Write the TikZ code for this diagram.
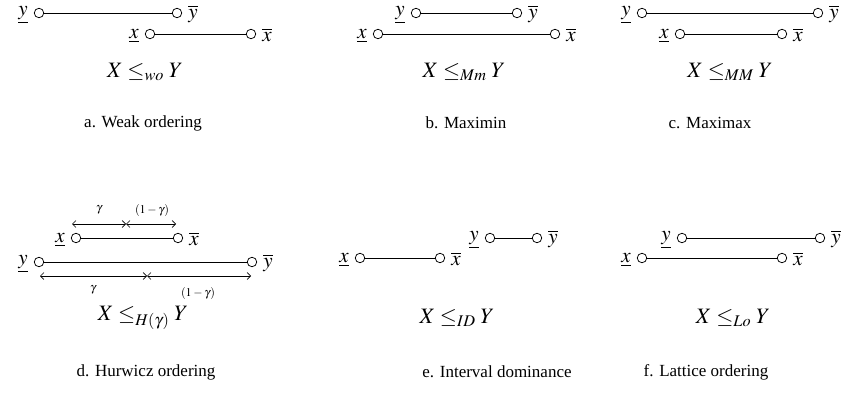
\documentclass[tikz,border=0pt]{standalone}
\usepackage{mathptmx}
\usepackage{fontspec}
\setmainfont{Liberation Serif}
\usetikzlibrary{arrows.meta}
\newcommand\ivl[5]{%
  \node[endpt] (#1l) at (#2,#4) {};
  \node[endpt] (#1r) at (#3,#4) {};
  \draw[seg] (#1l) -- (#1r);
  \node[lab,anchor=east] (#1ll) at ([xshift=-6pt,yshift=-2pt]#1l.west) {$\underline{#5}$};
  \node[lab,anchor=west] (#1rl) at ([xshift=6pt,yshift=-1pt]#1r.east) {$\overline{#5}$};}
\begin{document}
\begin{tikzpicture}[x=1pt,y=-1pt,
  endpt/.style={circle,draw,fill=white,minimum size=9.5pt,inner sep=0pt,line width=0.75pt},
  seg/.style={line width=0.8pt},
  lab/.style={inner sep=0pt,font=\fontsize{21}{25}\selectfont},
  formula/.style={inner sep=0pt,font=\fontsize{22}{26}\selectfont},
  capt/.style={inner sep=0pt,font=\fontsize{17}{20}\selectfont},
  small/.style={inner sep=0pt,font=\fontsize{12}{14}\selectfont},
  dim/.style={line width=0.6pt,{Straight Barb[length=3.5pt,width=7pt]}-{Straight Barb[length=3.5pt,width=7pt]}}]
\useasboundingbox (0,0) rectangle (849,409);
% a
\ivl{ay}{39}{177}{13}{y}
\ivl{ax}{150}{251}{34}{x}
\node[formula] (af) at (145,72) {$X \leq_{wo} Y$};
\node[capt] (ac) at (143,123) {a. Weak ordering};
% b
\ivl{by}{416}{517}{13}{y}
\ivl{bx}{378}{555}{34}{x}
\node[formula] (bf) at (464,72) {$X \leq_{Mm} Y$};
\node[capt] (bc) at (466,123) {b. Maximin};
% c
\ivl{cy}{642}{818}{13}{y}
\ivl{cx}{680}{782}{34}{x}
\node[formula] (cf) at (730,72) {$X \leq_{MM} Y$};
\node[capt] (cc) at (710,123) {c. Maximax};
% d
\ivl{dx}{76}{178}{238}{x}
\ivl{dy}{39}{252}{262}{y}
\coordinate (t1) at (72,224);
\coordinate (t2) at (126,224);
\coordinate (t3) at (176,224);
\draw[dim] (t1) -- (t2);
\draw[dim] (t2) -- (t3);
\node[small] (tg) at (99,210) {$\gamma$};
\node[small] (tg2) at (152,210) {$(1-\gamma)$};
\coordinate (b1) at (40,276);
\coordinate (b2) at (147,276);
\coordinate (b3) at (251,276);
\draw[dim] (b1) -- (b2);
\draw[dim] (b2) -- (b3);
\node[small] (bg) at (93,290) {$\gamma$};
\node[small] (bg2) at (198,293) {$(1-\gamma)$};
\node[formula] (df) at (143,318) {$X \leq_{H(\gamma)} Y$};
\node[capt] (dc) at (146,372) {d. Hurwicz ordering};
% e
\ivl{ex}{360}{440}{258}{x}
\ivl{ey}{490}{537}{238}{y}
\node[formula] (ef) at (457,318) {$X \leq_{ID} Y$};
\node[capt] (ec) at (497,372) {e. Interval dominance};
% f
\ivl{fy}{682}{820}{238}{y}
\ivl{fx}{642}{782}{258}{x}
\node[formula] (ff) at (733,318) {$X \leq_{Lo} Y$};
\node[capt] (fc) at (706,372) {f. Lattice ordering};
\end{tikzpicture}
\end{document}
